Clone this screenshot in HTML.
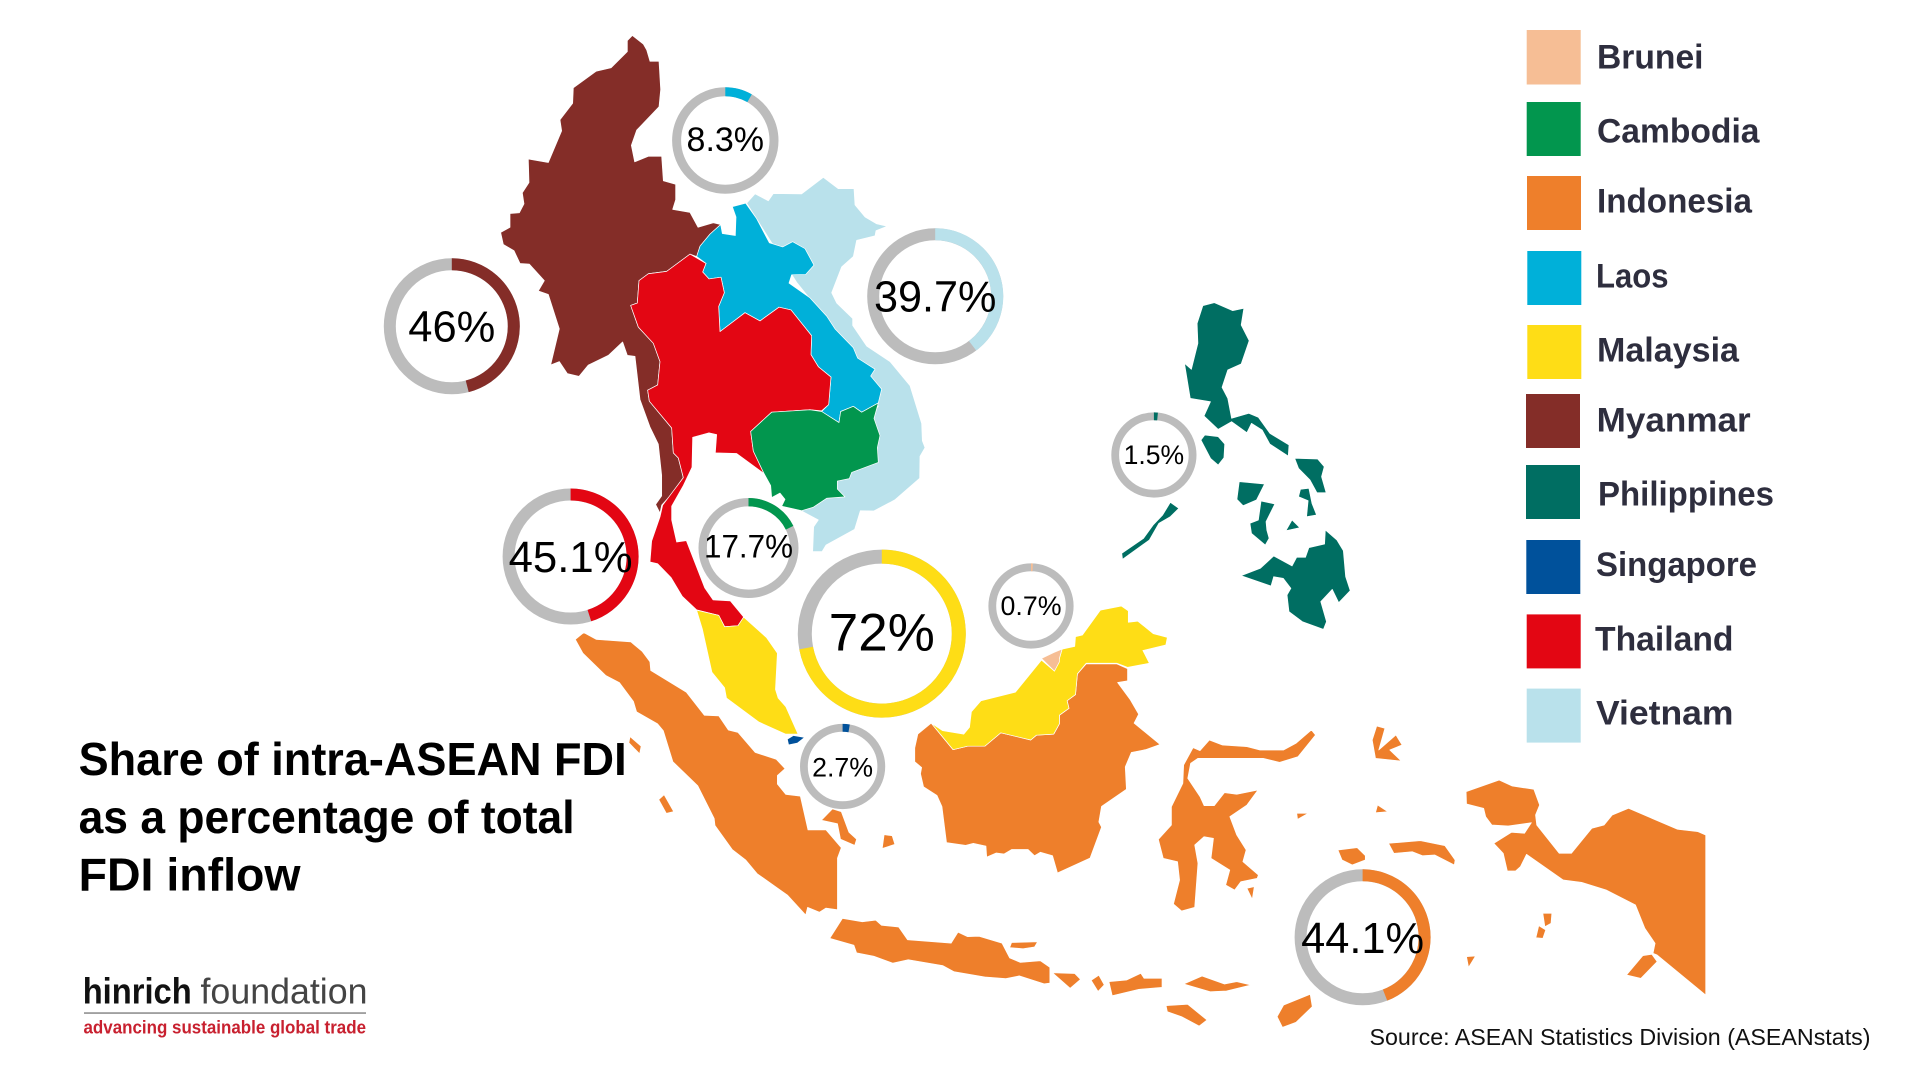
<!DOCTYPE html>
<html lang="en">
<head>
<meta charset="utf-8">
<title>Share of intra-ASEAN FDI as a percentage of total FDI inflow</title>
<style>
html,body{margin:0;padding:0;background:#fff;width:1920px;height:1080px;overflow:hidden}
svg{display:block}
text{font-family:"Liberation Sans",sans-serif}
.map polygon{stroke:#fff;stroke-width:.7;vector-effect:non-scaling-stroke;stroke-linejoin:round}
.lg{font-size:34px;font-weight:700;fill:#2e2e3e}
.tt{font-size:46px;font-weight:700;fill:#000}
.ring-label{fill:#000}
</style>
</head>
<body>
<svg id="chart" xmlns="http://www.w3.org/2000/svg" width="1920" height="1080" viewBox="0 0 1920 1080">
<rect width="1920" height="1080" fill="#fff"/>

<g class="map">
 <g transform="translate(480,0) scale(.33333,.34435)">
  <polygon fill="#b9e1eb" points="800,590 825,563 865,583 880,562 965,563 1030,515 1075,548 1122,548 1125,595 1155,630 1190,650 1222,657 1188,670 1185,685 1130,698 1120,745 1085,775 1055,850 1070,880 1118,925 1118,945 1160,1005 1230,1050 1290,1120 1325,1230 1327,1280 1335,1300 1320,1325 1319,1389 1244,1452 1181,1484 1141,1483 1124,1537 1038,1583 1026,1602 998,1602 1001,1530 1015,1510 963,1483 1000,1450 1195,1180 1100,1000 950,820"/>
  <polygon fill="#842d28" points="457,103 490,128 500,145 510,178 537,178 542,260 537,310 470,378 454,422 464,470 505,454 545,454 550,525 587,535 587,580 578,608 630,617 654,660 700,647 722,652 690,680 660,715 650,745 630,738 560,788 505,795 477,815 472,880 452,887 475,950 520,997 540,1050 533,1118 503,1133 508,1165 575,1243 580,1315 595,1330 610,1387 575,1435 545,1467 540,1490 527,1465 545,1440 545,1380 535,1290 510,1240 480,1160 465,1035 442,1032 428,993 385,1032 325,1060 297,1093 262,1085 238,1050 212,1060 238,955 205,855 175,845 193,815 148,767 120,765 102,728 70,710 62,675 90,660 90,620 118,618 132,592 127,560 147,530 145,462 205,472 245,380 240,348 278,300 280,255 348,207 393,197 442,150 442,118"/>
  <polygon fill="#00b0d9" points="757,600 797,590 830,635 868,705 908,717 938,702 975,722 1002,770 977,797 935,798 927,822 990,865 1040,918 1065,955 1120,1010 1133,1040 1185,1072 1172,1092 1205,1130 1195,1170 1145,1197 1120,1180 1082,1195 1077,1227 1025,1195 1046,1175 1053,1095 1015,1065 993,1030 995,975 933,900 897,892 840,932 795,908 720,963 716,890 733,850 723,805 687,810 668,790 678,765 650,745 660,715 690,680 722,652 727,678 766,684 768,630"/>
  <polygon fill="#e30613" points="630,738 678,765 668,790 687,810 723,805 733,850 716,890 720,963 795,908 840,932 897,892 933,900 995,975 993,1030 1015,1065 1053,1095 1046,1175 1025,1193 990,1190 875,1197 812,1253 820,1310 852,1375 770,1317 706,1315 710,1262 687,1257 638,1270 636,1357 610,1410 575,1470 575,1510 590,1574 619,1570 674,1707 699,1742 751,1745 791,1792 774,1817 734,1820 716,1787 650,1771 607,1732 573,1677 533,1637 510,1632 515,1571 540,1501 548,1467 610,1387 595,1330 580,1315 575,1243 508,1165 503,1133 533,1118 540,1050 520,997 475,950 452,887 472,880 477,815 505,795 560,788"/>
  <polygon fill="#02964e" points="875,1197 990,1190 1025,1195 1077,1227 1082,1195 1120,1180 1145,1197 1195,1170 1182,1215 1200,1265 1192,1300 1195,1343 1115,1372 1108,1390 1072,1397 1072,1420 1095,1443 1040,1447 1000,1473 965,1483 905,1470 915,1450 900,1432 875,1445 872,1410 852,1375 820,1310 812,1253"/>
 </g>

 <g transform="translate(560,500) scale(.3827,.34435)">
  <g fill="#ee7f2b">
   <polygon points="62,385 95,405 185,412 215,440 235,470 237,495 330,558 377,625 415,627 440,668 465,675 510,733 565,753 588,780 568,800 568,825 590,855 628,860 648,958 695,958 735,1010 725,1040 725,1190 695,1185 678,1197 647,1183 642,1205 595,1148 515,1085 485,1045 450,1015 405,945 403,925 360,830 295,760 270,670 255,650 200,615 192,585 155,530 120,510 60,445 40,405"/>
   <polygon points="183,687 212,715 208,737 180,705"/>
   <polygon points="272,856 297,905 278,910 258,870"/>
   <polygon points="712,897 735,905 755,965 775,985 770,1003 733,985 725,940 683,930"/>
   <polygon points="847,972 868,975 875,1000 842,1012"/>
   <polygon points="738,1215 790,1225 825,1220 840,1235 885,1240 908,1277 1022,1287 1040,1255 1065,1268 1095,1267 1155,1287 1175,1330 1203,1343 1255,1338 1280,1357 1280,1403 1265,1405 1200,1382 1165,1390 1110,1385 1030,1370 1000,1352 910,1335 870,1345 820,1325 775,1315 768,1293 705,1273"/>
   <polygon points="1180,1285 1248,1283 1240,1298 1210,1303 1175,1300"/>
   <polygon points="1287,1373 1345,1375 1360,1392 1333,1418"/>
   <polygon points="1388,1395 1408,1380 1422,1408 1406,1427"/>
   <polygon points="970,648 1027,725 1065,715 1110,715 1152,676 1230,697 1245,683 1290,680 1305,650 1305,625 1330,605 1325,583 1347,565 1352,505 1375,476 1455,476 1483,490 1483,525 1457,530 1490,580 1512,622 1500,648 1568,710 1530,725 1493,733 1477,775 1480,840 1415,890 1408,935 1415,950 1385,1040 1300,1083 1287,1033 1255,1023 1240,1033 1223,1015 1180,1015 1160,1028 1140,1025 1115,1037 1113,1005 1080,997 1060,1003 1010,995 998,890 985,858 950,833 942,795 945,777 927,760 927,720 935,680"/>
  </g>
  <polygon fill="#fedd16" points="357,320 415,335 430,368 465,365 480,340 540,400 568,445 563,550 570,575 590,600 622,680 590,680 520,645 435,575 430,545 397,500 372,375"/>
  <polygon fill="#fedd16" points="970,648 1000,670 1055,680 1070,660 1075,615 1100,583 1190,558 1258,465 1292,497 1305,460 1312,433 1345,425 1347,397 1365,392 1412,320 1467,308 1485,322 1485,355 1510,352 1550,388 1587,399 1583,421 1523,437 1540,474 1483,486 1455,474 1375,474 1352,505 1347,565 1325,583 1330,605 1305,625 1305,650 1290,680 1245,683 1230,697 1152,676 1110,715 1065,715 1027,725"/>
  <polygon fill="#f6be95" points="1258,460 1290,443 1312,433 1305,460 1305,470 1292,497"/>
  <polygon fill="#00519b" style="stroke:none" points="595,695 610,685 637,690 620,705 598,710"/>
 </g>

 <g transform="translate(1100,680) scale(.40816,.33333)" fill="#ee7f2b">
  <polygon points="22,905 65,900 100,880 108,895 152,895 152,922 95,928 30,947"/>
  <polygon points="268,180 300,195 360,200 392,210 450,210 480,190 518,150 528,165 485,230 440,247 400,235 240,235 222,250 215,295 245,350 255,377 280,377 305,338 335,343 387,330 360,375 318,410 335,465 358,510 350,545 388,585 385,595 345,605 330,630 308,615 318,570 272,535 278,475 255,470 232,495 240,550 232,682 200,693 180,672 195,600 190,545 155,535 143,478 175,435 175,380 203,310 205,255 228,203 245,212"/>
  <polygon points="360,625 378,620 373,658"/>
  <polygon points="678,138 698,145 683,210 725,165 740,195 710,210 738,243 675,235 667,180"/>
  <polygon points="482,400 510,400 484,418"/>
  <polygon points="680,375 705,395 675,398"/>
  <polygon points="583,510 630,503 650,527 650,540 618,555 593,540"/>
  <polygon points="707,490 785,482 845,497 870,540 868,555 820,525 790,527 765,515 720,520"/>
  <polygon points="897,335 978,300 1010,318 1063,328 1077,375 1067,405 1070,435 1125,520 1155,520 1205,445 1235,435 1255,405 1295,385 1415,448 1465,455 1484,465 1484,945 1365,825 1355,820 1360,790 1335,745 1312,675 1240,630 1180,607 1135,600 1045,523 1030,560 1018,573 998,573 988,520 965,490 1008,457 1040,460 1057,428 1000,438 960,435 945,410 940,385 898,372"/>
  <polygon points="1330,827 1352,823 1365,845 1325,895 1290,885"/>
  <polygon points="1085,700 1107,700 1105,730 1090,740"/>
  <polygon points="1075,737 1092,750 1085,775 1068,773"/>
  <polygon points="898,830 920,828 903,862"/>
  <polygon points="205,912 250,888 305,912 335,905 370,915 310,933 270,935"/>
  <polygon points="162,977 215,973 262,1020 243,1038 200,1010 165,995"/>
  <polygon points="515,943 520,980 480,1027 447,1042 434,1010 450,975"/>
 </g>

 <g transform="translate(780,160) scale(.3827,.33333)" fill="#006e62">
  <polygon points="1105,437 1135,428 1183,452 1212,445 1205,495 1226,542 1205,612 1170,630 1155,682 1170,715 1180,775 1225,760 1250,772 1280,820 1330,855 1328,888 1280,852 1260,810 1232,790 1220,818 1180,785 1145,808 1108,768 1125,725 1072,715 1057,610 1075,628 1092,550 1090,490"/>
  <polygon points="1110,825 1145,830 1162,852 1160,893 1145,915 1125,895 1100,840"/>
  <polygon points="1345,895 1405,897 1422,920 1415,950 1427,998 1403,998 1385,960 1355,925"/>
  <polygon points="1360,988 1382,985 1390,1030 1402,1065 1376,1070 1380,1022 1355,1010"/>
  <polygon points="1200,965 1266,972 1245,1020 1210,1037 1194,1018"/>
  <polygon points="1257,1023 1293,1032 1270,1085 1272,1110 1278,1135 1268,1155 1232,1120 1228,1090 1250,1080"/>
  <polygon points="1338,1080 1358,1103 1322,1112"/>
  <polygon points="1020,1027 1042,1045 1020,1070 990,1090 965,1140 895,1198 893,1180 950,1135 975,1095 1000,1065"/>
  <polygon points="1425,1110 1455,1140 1472,1172 1478,1250 1490,1292 1460,1328 1443,1288 1413,1325 1428,1385 1420,1408 1365,1385 1330,1355 1325,1305 1335,1285 1315,1255 1290,1250 1283,1278 1205,1247 1255,1225 1290,1188 1338,1218 1350,1192 1373,1192 1382,1163 1423,1152"/>
 </g>
</g>

<g id="rings">
 <g class="ring" data-cx="1031" data-cy="606" data-r="38.7" data-sw="7.8" data-fs="27" data-by="615" data-tw="61"></g>
 <g class="ring" data-cx="748.5" data-cy="548" data-r="45.8" data-sw="8.4" data-fs="32" data-by="557.5" data-tw="89"></g>
 <g class="ring" data-cx="1362.6" data-cy="937.3" data-r="62" data-sw="12" data-fs="44" data-by="952.8" data-tw="123"></g>
 <g class="ring" data-cx="725.3" data-cy="140.5" data-r="48.7" data-sw="9" data-fs="34" data-by="151" data-tw="77.5"></g>
 <g class="ring" data-cx="881.8" data-cy="633.6" data-r="77" data-sw="14" data-fs="53" data-by="650.5" data-tw="106"></g>
 <g class="ring" data-cx="451.8" data-cy="326.3" data-r="62" data-sw="12" data-fs="44" data-by="341.3" data-tw="87"></g>
 <g class="ring" data-cx="1153.9" data-cy="455" data-r="38.7" data-sw="7.8" data-fs="27" data-by="464" data-tw="60.5"></g>
 <g class="ring" data-cx="842.6" data-cy="766.5" data-r="38.7" data-sw="7.8" data-fs="27" data-by="776.5" data-tw="61"></g>
 <g class="ring" data-cx="570.6" data-cy="556.5" data-r="62" data-sw="12" data-fs="44" data-by="572" data-tw="124"></g>
 <g class="ring" data-cx="935.2" data-cy="296.3" data-r="62" data-sw="12" data-fs="44" data-by="311.5" data-tw="122.5"></g>
</g>

<g>
 <g><rect x="1526.7" y="30" width="54" height="54.5" fill="#f6be95"/><text class="lg" x="1597" y="68.7" textLength="106.5" lengthAdjust="spacingAndGlyphs">Brunei</text></g>
 <g><rect x="1526.7" y="102" width="54" height="54" fill="#02964e"/><text class="lg" x="1597" y="142.3" textLength="162.5" lengthAdjust="spacingAndGlyphs">Cambodia</text></g>
 <g><rect x="1527" y="176" width="54" height="54" fill="#ee7f2b"/><text class="lg" x="1597" y="212.5" textLength="155" lengthAdjust="spacingAndGlyphs">Indonesia</text></g>
 <g><rect x="1527.3" y="251" width="54" height="54" fill="#00b0d9"/><text class="lg" x="1596" y="287.3" textLength="72.5" lengthAdjust="spacingAndGlyphs">Laos</text></g>
 <g><rect x="1527.3" y="325" width="54" height="54" fill="#fedd16"/><text class="lg" x="1597" y="361.5" textLength="142" lengthAdjust="spacingAndGlyphs">Malaysia</text></g>
 <g><rect x="1526" y="394" width="54" height="54" fill="#842d28"/><text class="lg" x="1596.7" y="431.5" textLength="154" lengthAdjust="spacingAndGlyphs">Myanmar</text></g>
 <g><rect x="1526" y="465" width="54" height="54" fill="#006e62"/><text class="lg" x="1598" y="505.5" textLength="176" lengthAdjust="spacingAndGlyphs">Philippines</text></g>
 <g><rect x="1526.3" y="540" width="54" height="54" fill="#00519b"/><text class="lg" x="1596" y="576" textLength="161" lengthAdjust="spacingAndGlyphs">Singapore</text></g>
 <g><rect x="1526.7" y="614.4" width="54" height="54" fill="#e30613"/><text class="lg" x="1595" y="650.7" textLength="138.5" lengthAdjust="spacingAndGlyphs">Thailand</text></g>
 <g><rect x="1526.7" y="688.6" width="54" height="54" fill="#b9e1eb"/><text class="lg" x="1596" y="724.4" textLength="137.5" lengthAdjust="spacingAndGlyphs">Vietnam</text></g>
</g>

<g>
 <text class="tt" x="78.6" y="775" textLength="548" lengthAdjust="spacingAndGlyphs">Share of intra-ASEAN FDI</text>
 <text class="tt" x="78.6" y="833" textLength="496" lengthAdjust="spacingAndGlyphs">as a percentage of total</text>
 <text class="tt" x="78.6" y="890.5" textLength="222" lengthAdjust="spacingAndGlyphs">FDI inflow</text>
</g>

<g>
 <text x="82.7" y="1003.3" font-size="36" font-weight="700" fill="#111" textLength="109" lengthAdjust="spacingAndGlyphs">hinrich</text>
 <text x="200.5" y="1003.3" font-size="36" fill="#444" textLength="167" lengthAdjust="spacingAndGlyphs">foundation</text>
 <rect x="84" y="1012.3" width="282" height="1.5" fill="#888"/>
 <text x="83.5" y="1033.5" font-size="18" font-weight="700" fill="#c8202f" textLength="282.5" lengthAdjust="spacingAndGlyphs">advancing sustainable global trade</text>
</g>

<text x="1369.5" y="1045" font-size="23" fill="#111" textLength="501" lengthAdjust="spacingAndGlyphs">Source: ASEAN Statistics Division (ASEANstats)</text>
</svg>

<script>
const countries = ["Brunei","Cambodia","Indonesia","Laos","Malaysia","Myanmar","Philippines","Singapore","Thailand","Vietnam"];
const shares = [0.7, 17.7, 44.1, 8.3, 72, 46, 1.5, 2.7, 45.1, 39.7];
const ringColors = ["#f6be95","#02964e","#ee7f2b","#00b0d9","#fedd16","#842d28","#006e62","#00519b","#e30613","#b9e1eb"];

const NS = "http://www.w3.org/2000/svg";
function angleOf(share){ return share / 100 * 2 * Math.PI; }
function pointOn(cx, cy, r, a){ return [cx + r * Math.sin(a), cy - r * Math.cos(a)]; }

const ringGroups = document.querySelectorAll("#rings .ring");
countries.forEach(function(country, i){
  const g = ringGroups[i];
  const cx = +g.getAttribute("data-cx");
  const cy = +g.getAttribute("data-cy");
  const r = +g.getAttribute("data-r");
  const sw = +g.getAttribute("data-sw");
  const key = country.toLowerCase();

  const track = document.createElementNS(NS, "circle");
  
  
  track.setAttribute("cx", cx);
  track.setAttribute("cy", cy);
  track.setAttribute("r", r);
  track.setAttribute("fill", "#fff");
  track.setAttribute("stroke", "#bcbcbc");
  track.setAttribute("stroke-width", sw);
  g.appendChild(track);

  const a = Math.min(angleOf(shares[i]), 2 * Math.PI - 0.0001);
  const p0 = pointOn(cx, cy, r, 0);
  const p1 = pointOn(cx, cy, r, a);
  const arc = document.createElementNS(NS, "path");
  
  
  arc.setAttribute("d", "M" + p0[0] + " " + p0[1] + " A" + r + " " + r + " 0 " + (a > Math.PI ? 1 : 0) + " 1 " + p1[0] + " " + p1[1]);
  arc.setAttribute("fill", "none");
  arc.setAttribute("stroke", ringColors[i]);
  arc.setAttribute("stroke-width", sw);
  g.appendChild(arc);

  const label = document.createElementNS(NS, "text");
  
  
  label.setAttribute("class", "ring-label");
  label.setAttribute("x", cx);
  label.setAttribute("y", g.getAttribute("data-by"));
  label.setAttribute("text-anchor", "middle");
  label.setAttribute("font-size", g.getAttribute("data-fs"));
  label.setAttribute("textLength", g.getAttribute("data-tw"));
  label.setAttribute("lengthAdjust", "spacingAndGlyphs");
  label.textContent = shares[i] + "%";
  g.appendChild(label);
});
</script>
</body>
</html>
